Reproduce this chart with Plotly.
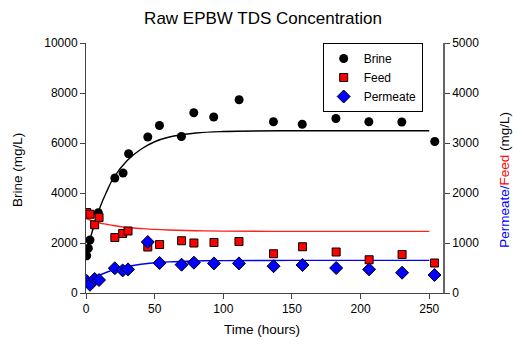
import plotly.graph_objects as go

# ---- data ----
brine_t = [0.5, 1.7, 2.9, 9, 21, 27, 31, 45, 53.5, 69.5, 78.5, 93, 111.5, 136.5, 157.5, 182, 206, 230, 254]
brine_v = [1490, 1790, 2120, 3210, 4600, 4800, 5570, 6240, 6700, 6260, 7210, 7040, 7730, 6850, 6750, 6980, 6850, 6840, 6060]

pf_t = [0.5, 2.9, 6.3, 9.5, 21, 26.7, 30.6, 45, 53.6, 69.6, 78.6, 93.2, 111.4, 136.6, 157.7, 182.2, 206.2, 230.2, 253.8]
feed_v = [1610, 1575, 1365, 1510, 1110, 1190, 1240, 920, 970, 1045, 1000, 1010, 1030, 785, 925, 820, 665, 770, 600]
perm_v = [240, 165, 280, 260, 495, 452, 472, 1020, 600, 566, 606, 592, 592, 536, 560, 500, 472, 406, 360]

# fitted curves
fit_t = [0, 5, 10, 15, 20, 30, 40, 50, 60, 80, 100, 150, 200, 250]
brine_fit = [1500, 2550, 3400, 4050, 4600, 5300, 5750, 6050, 6230, 6400, 6460, 6490, 6490, 6490]
feed_fit = [1490, 1440, 1400, 1375, 1350, 1310, 1290, 1272, 1260, 1245, 1238, 1232, 1232, 1232]
perm_fit = [230, 300, 360, 415, 460, 530, 575, 605, 622, 640, 648, 652, 652, 652]

x_ticks = [0, 50, 100, 150, 200, 250]
yl_ticks = [0, 2000, 4000, 6000, 8000, 10000]
yr_ticks = [0, 1000, 2000, 3000, 4000, 5000]

FONT = "Liberation Sans, Arial, sans-serif"
W, H = 513, 347

fig = go.Figure()
fig.add_trace(go.Scatter(x=fit_t, y=brine_fit, mode="lines", line=dict(color="black", width=1.4, shape="spline"),
                         showlegend=False, hoverinfo="skip"))
fig.add_trace(go.Scatter(x=fit_t, y=feed_fit, mode="lines", line=dict(color="#ff2020", width=1.4, shape="spline"),
                         showlegend=False, hoverinfo="skip", yaxis="y2"))
fig.add_trace(go.Scatter(x=fit_t, y=perm_fit, mode="lines", line=dict(color="#0000ff", width=1.4, shape="spline"),
                         showlegend=False, hoverinfo="skip", yaxis="y2"))

fig.add_trace(go.Scatter(x=brine_t, y=brine_v, mode="markers", name="Brine",
                         marker=dict(symbol="circle", size=9, color="black")))
fig.add_trace(go.Scatter(x=pf_t, y=feed_v, mode="markers", name="Feed", yaxis="y2",
                         marker=dict(symbol="square", size=8, color="#ff0000", line=dict(color="black", width=1))))
fig.add_trace(go.Scatter(x=pf_t, y=perm_v, mode="markers", name="Permeate", yaxis="y2",
                         marker=dict(symbol="diamond", size=10, color="#0000ff", line=dict(color="black", width=1))))

axis_common = dict(showline=True, linecolor="#444", linewidth=1, ticks="outside", ticklen=5,
                   tickcolor="#444", showgrid=False, zeroline=False, tickformat="d",
                   tickfont=dict(family=FONT, size=12, color="black"))

fig.update_layout(
    width=W, height=H,
    margin=dict(l=86, r=70, t=43, b=54, autoexpand=False),
    paper_bgcolor="white", plot_bgcolor="white",
    font=dict(family=FONT, color="black"),
    title=dict(text="Raw EPBW TDS Concentration", x=263 / W, xanchor="center",
               y=1 - 18 / H, yanchor="middle", font=dict(family=FONT, size=17, color="black")),
    xaxis=dict(range=[0, 260], tickvals=x_ticks, automargin=False, **axis_common),
    yaxis=dict(range=[0, 10000], tickvals=yl_ticks, automargin=False, **axis_common),
    yaxis2=dict(range=[0, 5000], tickvals=yr_ticks, overlaying="y", side="right", automargin=False,
                **{**axis_common, "linecolor": "#666", "linewidth": 1.5}),
    legend=dict(x=0.663, y=1.0, xanchor="left", yanchor="top", bordercolor="black", borderwidth=1,
                bgcolor="white", font=dict(family=FONT, size=12, color="black"), itemwidth=30),
    showlegend=True,
    annotations=[
        dict(text="Brine (mg/L)", xref="paper", yref="paper", x=-0.19, y=0.493, textangle=-90,
             showarrow=False, font=dict(family=FONT, size=13.5, color="black"), xanchor="center", yanchor="middle"),
        dict(text="<span style='color:#0000ff'>Permeate/</span><span style='color:#ff0000'>Feed</span> (mg/L)",
             xref="paper", yref="paper", x=1.174, y=0.453, textangle=-90,
             showarrow=False, font=dict(family=FONT, size=13.5, color="black"), xanchor="center", yanchor="middle"),
        dict(text="Time (hours)", xref="paper", yref="paper", x=0.493, y=-0.147,
             showarrow=False, font=dict(family=FONT, size=13.5, color="black"), xanchor="center", yanchor="middle"),
    ],
)

# remove the browser's default 8px body margin so the figure fills the window exactly
fig.write_html("out.html",
               config={"displayModeBar": False},
               post_script="document.body.style.margin='0';document.body.style.overflow='hidden';")
